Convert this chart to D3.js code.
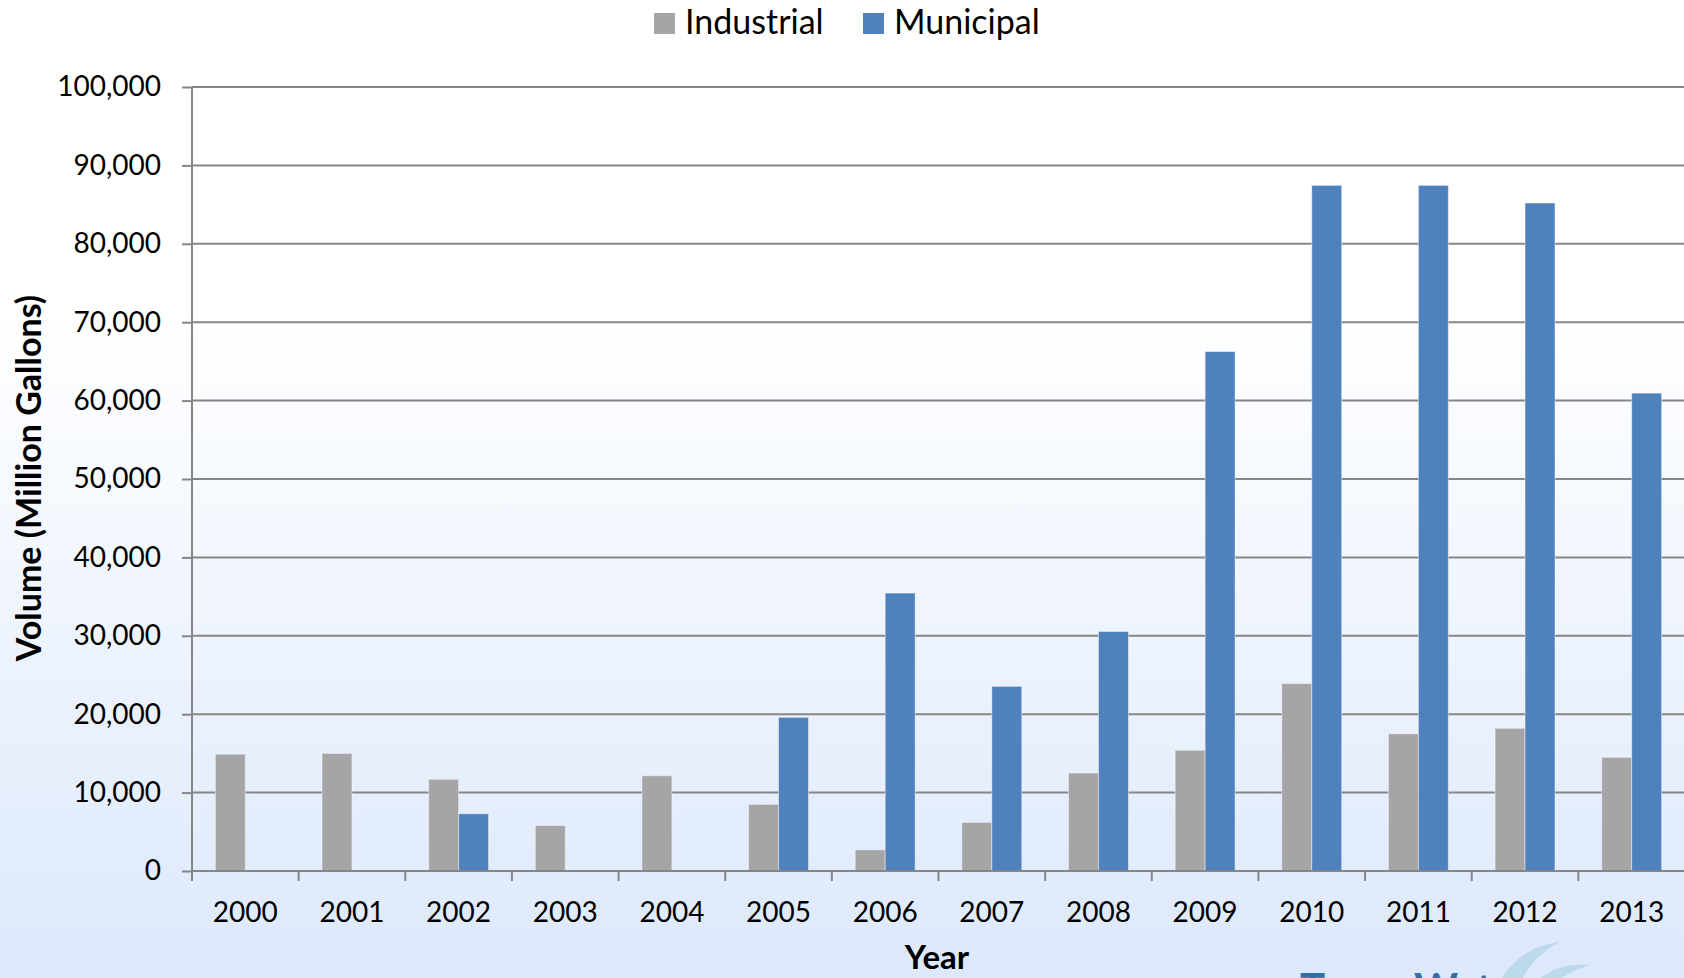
<!DOCTYPE html>
<html>
<head>
<meta charset="utf-8">
<script src="https://cdn.jsdelivr.net/npm/d3@7"></script>
<style>
  html, body { margin: 0; padding: 0; }
  body { width: 1684px; height: 978px; overflow: hidden; }
  svg text { font-family: Lato, "Open Sans", sans-serif; fill: #000; }
  .grid line { stroke: #868686; stroke-width: 2; }
  .axis path, .axis line { stroke: #868686; stroke-width: 2; }
</style>
</head>
<body>
<svg id="chart" width="1684" height="978"></svg>
<script>
var years = ["2000", "2001", "2002", "2003", "2004", "2005", "2006",
             "2007", "2008", "2009", "2010", "2011", "2012", "2013"];
var seriesNames = ["Industrial", "Municipal"];
var industrial = [14900, 15000, 11700, 5800, 12150, 8500, 2700,
                  6200, 12500, 15400, 23900, 17500, 18200, 14500];
var municipal = [0, 0, 7300, 0, 0, 19600, 35450,
                 23550, 30550, 66250, 87450, 87450, 85200, 60950];
var yTicks = [0, 10000, 20000, 30000, 40000, 50000, 60000, 70000, 80000, 90000, 100000];
var colors = ["#a5a5a5", "#4f81bd"];

var svg = d3.select("#chart");
var plotLeft = 192, plotRight = 1685, plotTop = 87, plotBottom = 871;

// background
var defs = svg.append("defs");
var grad = defs.append("linearGradient")
    .attr("id", "bg").attr("x1", 0).attr("y1", 0).attr("x2", 0).attr("y2", 1);
grad.append("stop").attr("offset", "0%").attr("stop-color", "#ffffff");
grad.append("stop").attr("offset", "32%").attr("stop-color", "#ffffff");
grad.append("stop").attr("offset", "100%").attr("stop-color", "#dce8fb");
svg.append("rect")
  .attr("width", 1684).attr("height", 978)
  .attr("fill", "url(#bg)");

var x0 = d3.scaleBand()
    .domain(years)
    .range([plotLeft, plotRight])
    .paddingInner(0).paddingOuter(0);
var x1 = d3.scaleBand()
    .domain(seriesNames)
    .range([0, x0.bandwidth()])
    .paddingInner(0).paddingOuter(0.78);
var y = d3.scaleLinear()
    .domain([0, 100000])
    .range([plotBottom, plotTop]);

// gridlines
svg.append("g").attr("class", "grid")
  .selectAll("line")
  .data(yTicks.slice(1))
  .enter().append("line")
    .attr("x1", plotLeft).attr("x2", plotRight)
    .attr("y1", function(d) { return y(d); })
    .attr("y2", function(d) { return y(d); });

// bars
var rows = years.map(function(yr, i) {
  return { year: yr, values: [industrial[i], municipal[i]] };
});
var groups = svg.append("g").selectAll("g")
  .data(rows)
  .enter().append("g")
    .attr("transform", function(d) { return "translate(" + x0(d.year) + ",0)"; });
groups.selectAll("rect")
  .data(function(d) {
    return d.values.map(function(v, j) { return { name: seriesNames[j], value: v, idx: j }; });
  })
  .enter().append("rect")
    .filter(function(d) { return d.value > 0; })
    .attr("x", function(d) { return x1(d.name); })
    .attr("width", x1.bandwidth())
    .attr("y", function(d) { return y(d.value); })
    .attr("height", function(d) { return y(0) - y(d.value); })
    .attr("fill", function(d) { return colors[d.idx]; })
    .attr("stroke", "rgba(255,255,255,0.45)")
    .attr("stroke-width", 1);

// y axis
var yAxis = svg.append("g").attr("class", "axis")
    .attr("transform", "translate(" + plotLeft + ",0)")
    .call(d3.axisLeft(y).tickValues(yTicks).tickSize(10).tickPadding(21)
      .tickFormat(d3.format(",")));
yAxis.select(".domain").attr("d", "M0," + plotBottom + "V" + plotTop);
yAxis.selectAll("text").style("font-size", "28px");

// x axis
var xAxis = svg.append("g").attr("class", "axis")
    .attr("transform", "translate(0," + plotBottom + ")")
    .call(d3.axisBottom(x0).tickSize(0).tickPadding(31));
xAxis.select(".domain").attr("d", "M" + plotLeft + ",0H" + plotRight);
xAxis.selectAll("text").style("font-size", "28px");
xAxis.selectAll(".sep")
  .data(years.concat(["end"]))
  .enter().append("line")
    .attr("class", "sep")
    .attr("x1", function(d, i) { return plotLeft + i * x0.step(); })
    .attr("x2", function(d, i) { return plotLeft + i * x0.step(); })
    .attr("y1", 0).attr("y2", 10);

// axis titles
svg.append("text")
  .attr("x", 937).attr("y", 969)
  .attr("text-anchor", "middle")
  .style("font-size", "33px").style("font-weight", "bold")
  .text("Year");
svg.append("text")
  .attr("transform", "translate(41,478) rotate(-90)")
  .attr("text-anchor", "middle")
  .style("font-size", "34px").style("font-weight", "bold")
  .text("Volume (Million Gallons)");

// legend
var legend = svg.append("g").selectAll("g")
  .data(seriesNames)
  .enter().append("g")
    .attr("transform", function(d, i) { return "translate(" + (i == 0 ? 654 : 863) + ",0)"; });
legend.append("rect")
  .attr("y", 13).attr("width", 21).attr("height", 21)
  .attr("fill", function(d, i) { return colors[i]; });
legend.append("text")
  .attr("x", 31).attr("y", 34)
  .style("font-size", "34px")
  .text(function(d) { return d; });

// logo remnant at bottom right
var logo = svg.append("g");
logo.append("text")
  .attr("x", 1300).attr("y", 1004)
  .style("font-size", "42px").style("font-weight", "bold")
  .style("fill", "#2f6fad")
  .text("Texas Water");
logo.append("path")
  .attr("d", "M1495,1000 C1500,965 1530,945 1560,942 C1535,955 1520,975 1515,1000 Z")
  .attr("fill", "#bcd9ee");
logo.append("path")
  .attr("d", "M1525,1000 C1535,975 1560,962 1590,965 C1565,972 1550,985 1545,1000 Z")
  .attr("fill", "#bcd9ee");
</script>
</body>
</html>
